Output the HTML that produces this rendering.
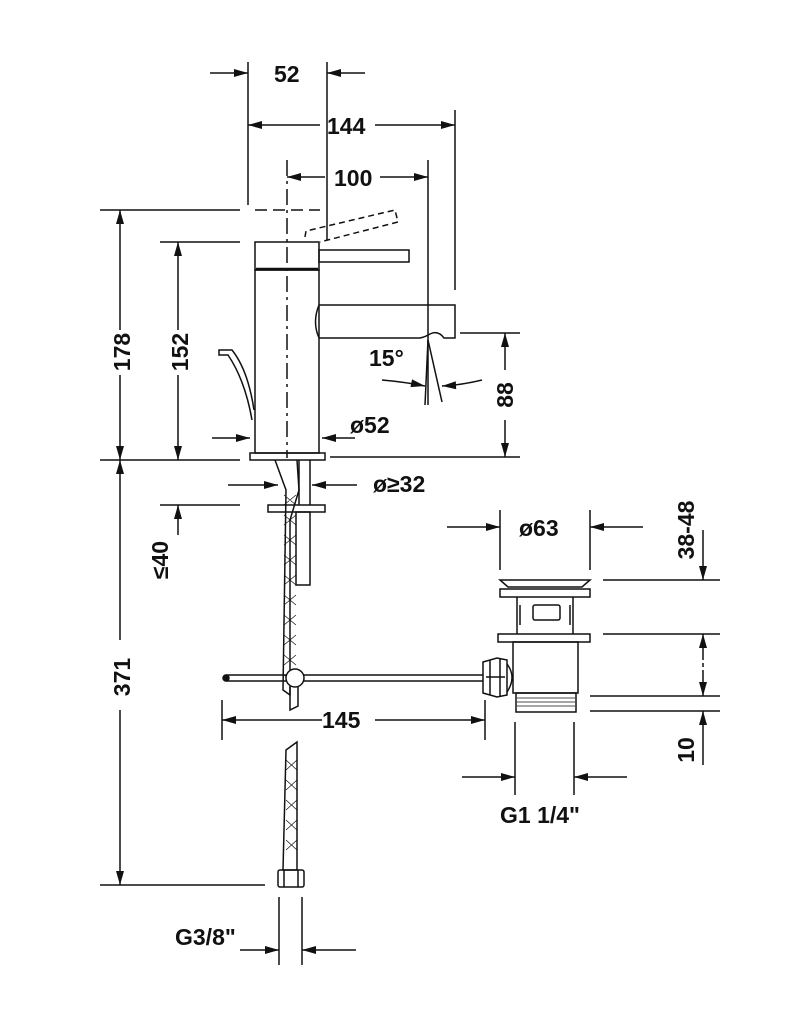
<!DOCTYPE html>
<html><head><meta charset="utf-8"><style>
html,body{margin:0;padding:0;background:#fff}
svg{display:block}
text{font-family:"Liberation Sans",sans-serif;font-weight:bold;font-size:23px;fill:#111}
</style></head><body>
<svg width="796" height="1024" viewBox="0 0 796 1024" xmlns="http://www.w3.org/2000/svg">
<defs>
<marker id="a" viewBox="0 0 14 10" refX="14" refY="5" markerWidth="15" markerHeight="10" orient="auto-start-reverse" markerUnits="userSpaceOnUse"><path d="M0,1 L14,5 L0,9 z" fill="#111"/></marker>
</defs>
<g stroke="#111" stroke-width="1.5" fill="none">
<line x1="248" y1="62" x2="248" y2="205"/>
<line x1="327" y1="62" x2="327" y2="240"/>
<line x1="210" y1="73" x2="248" y2="73" marker-end="url(#a)"/>
<line x1="365" y1="73" x2="327" y2="73" marker-end="url(#a)"/>
<line x1="455" y1="110" x2="455" y2="290"/>
<line x1="320" y1="125" x2="248" y2="125" marker-end="url(#a)"/>
<line x1="375" y1="125" x2="455" y2="125" marker-end="url(#a)"/>
<line x1="428" y1="160" x2="428" y2="405"/>
<line x1="325" y1="177" x2="287" y2="177" marker-end="url(#a)"/>
<line x1="380" y1="177" x2="428" y2="177" marker-end="url(#a)"/>
<line x1="287" y1="160" x2="287" y2="458" stroke-dasharray="16,5,3,5"/>
<line x1="100" y1="210" x2="240" y2="210"/>
<line x1="255" y1="210" x2="320" y2="210" stroke-dasharray="12,6"/>
<line x1="160" y1="242" x2="240" y2="242"/>
<line x1="100" y1="460" x2="240" y2="460"/>
<line x1="120" y1="330" x2="120" y2="210" marker-end="url(#a)"/>
<line x1="120" y1="375" x2="120" y2="460" marker-end="url(#a)"/>
<line x1="178" y1="330" x2="178" y2="242" marker-end="url(#a)"/>
<line x1="178" y1="375" x2="178" y2="460" marker-end="url(#a)"/>
<rect x="255" y="242" width="64" height="28"/>
<line x1="256" y1="269" x2="318" y2="269" stroke-width="2.5"/>
<rect x="255" y="270" width="64" height="183"/>
<rect x="250" y="453" width="75" height="7"/>
<rect x="319" y="250" width="90" height="12"/>
<path d="M305,237 L306,231 L395,210 L398,222 L320,242" stroke-dasharray="6,4"/>
<path d="M319,305 L455,305 L455,338 L444,338 Q438,330 430,334 Q425,337 420,338 L319,338 Q312,322 319,305"/>
<path d="M252,420 Q245,380 228,355 L219,355 L219,350 L232,350 Q248,370 254,410"/>
<line x1="460" y1="333" x2="520" y2="333"/>
<line x1="330" y1="457" x2="520" y2="457"/>
<line x1="505" y1="370" x2="505" y2="333" marker-end="url(#a)"/>
<line x1="505" y1="420" x2="505" y2="457" marker-end="url(#a)"/>
<line x1="428" y1="340" x2="425" y2="405"/>
<line x1="428" y1="340" x2="442" y2="402"/>
<path d="M382,380 Q405,382 425,386" marker-end="url(#a)"/>
<path d="M482,380 Q462,385 442,386" marker-end="url(#a)"/>
<line x1="212" y1="438" x2="250" y2="438" marker-end="url(#a)"/>
<line x1="355" y1="438" x2="322" y2="438" marker-end="url(#a)"/>
<line x1="228" y1="485" x2="278" y2="485" marker-end="url(#a)"/>
<line x1="357" y1="485" x2="312" y2="485" marker-end="url(#a)"/>
<path d="M275,460 L286,490 L283,690 L290,695 L290,520 L299,490 L297,460"/>
<path d="M284,495 L296,505 M284,515 L296,525 M284,535 L296,545 M284,555 L296,565 M284,575 L296,585 M284,595 L296,605 M284,615 L296,625 M284,635 L296,645 M284,655 L296,665 M284,675 L294,683 M296,495 L284,505 M296,515 L284,525 M296,535 L284,545 M296,555 L284,565 M296,575 L284,585 M296,595 L284,605 M296,615 L284,625 M296,635 L284,645 M296,655 L284,665" stroke-width="0.7"/>
<rect x="268" y="505" width="57" height="7"/>
<rect x="296" y="512" width="14" height="73"/>
<line x1="299" y1="460" x2="299" y2="505"/>
<line x1="310" y1="460" x2="310" y2="505"/>
<line x1="160" y1="505" x2="240" y2="505"/>
<line x1="178" y1="535" x2="178" y2="505" marker-end="url(#a)"/>
<line x1="120" y1="640" x2="120" y2="460" marker-end="url(#a)"/>
<line x1="120" y1="710" x2="120" y2="885" marker-end="url(#a)"/>
<line x1="100" y1="885" x2="265" y2="885"/>
<path d="M226,675 L485,675 M226,681 L485,681"/>
<circle cx="226" cy="678" r="3" fill="#111"/>
<circle cx="295" cy="678" r="9" fill="#fff"/>
<path d="M290,687 L290,710 L298,706 L298,687"/>
<line x1="222" y1="700" x2="222" y2="740"/>
<line x1="485" y1="700" x2="485" y2="740"/>
<line x1="322" y1="720" x2="222" y2="720" marker-end="url(#a)"/>
<line x1="375" y1="720" x2="485" y2="720" marker-end="url(#a)"/>
<path d="M500,580 L590,580 L582,587 L508,587 Z"/>
<rect x="500" y="589" width="90" height="8"/>
<path d="M517,597 L517,634 M573,597 L573,634 M520,605 L520,625 M570,605 L570,625"/>
<rect x="533" y="605" width="27" height="15" rx="2"/>
<rect x="498" y="634" width="92" height="8"/>
<rect x="513" y="642" width="65" height="51"/>
<rect x="516" y="693" width="60" height="19"/>
<path d="M517,698 L575,698 M517,702 L575,702 M517,706 L575,706" stroke-width="0.8"/>
<path d="M483,662 L497,658 L507,660 L507,695 L497,697 L483,693 Z" fill="#fff"/>
<path d="M490,660 L490,695 M500,659 L500,696 M486,677 L505,677"/>
<path d="M507,664 Q517,677 507,692"/>
<line x1="500" y1="510" x2="500" y2="570"/>
<line x1="590" y1="510" x2="590" y2="570"/>
<line x1="447" y1="527" x2="500" y2="527" marker-end="url(#a)"/>
<line x1="643" y1="527" x2="590" y2="527" marker-end="url(#a)"/>
<line x1="603" y1="580" x2="720" y2="580"/>
<line x1="603" y1="634" x2="720" y2="634"/>
<line x1="590" y1="696" x2="720" y2="696"/>
<line x1="590" y1="711" x2="720" y2="711"/>
<line x1="703" y1="530" x2="703" y2="580" marker-end="url(#a)"/>
<line x1="703" y1="660" x2="703" y2="634" marker-end="url(#a)"/>
<line x1="703" y1="670" x2="703" y2="696" marker-end="url(#a)"/>
<line x1="703" y1="663" x2="703" y2="667"/>
<line x1="703" y1="765" x2="703" y2="711" marker-end="url(#a)"/>
<line x1="515" y1="722" x2="515" y2="795"/>
<line x1="574" y1="722" x2="574" y2="795"/>
<line x1="462" y1="777" x2="515" y2="777" marker-end="url(#a)"/>
<line x1="627" y1="777" x2="574" y2="777" marker-end="url(#a)"/>
<path d="M286,750 L297,742 L297,870 L283,870 Z"/>
<path d="M286,760 L297,770 M286,780 L297,790 M286,800 L297,810 M286,820 L297,830 M286,840 L297,850 M297,760 L286,770 M297,780 L286,790 M297,800 L286,810 M297,820 L286,830 M297,840 L286,850" stroke-width="0.7"/>
<rect x="278" y="870" width="26" height="17" rx="2"/>
<path d="M284,870 L284,887 M298,870 L298,887"/>
<line x1="279" y1="897" x2="279" y2="965"/>
<line x1="302" y1="897" x2="302" y2="965"/>
<line x1="356" y1="950" x2="302" y2="950" marker-end="url(#a)"/>
<line x1="240" y1="950" x2="279" y2="950" marker-end="url(#a)"/>
</g>
<text x="274" y="82">52</text>
<text x="327" y="134">144</text>
<text x="334" y="186">100</text>
<text x="369" y="366">15°</text>
<text x="350" y="433">ø52</text>
<text x="373" y="492">ø≥32</text>
<text x="519" y="536">ø63</text>
<text x="322" y="728">145</text>
<text x="500" y="823">G1 1/4"</text>
<text x="175" y="945">G3/8"</text>
<text transform="translate(130,352) rotate(-90)" text-anchor="middle">178</text>
<text transform="translate(188,352) rotate(-90)" text-anchor="middle">152</text>
<text transform="translate(513,395) rotate(-90)" text-anchor="middle">88</text>
<text transform="translate(168,560) rotate(-90)" text-anchor="middle">≤40</text>
<text transform="translate(130,677) rotate(-90)" text-anchor="middle">371</text>
<text transform="translate(694,530) rotate(-90)" text-anchor="middle">38-48</text>
<text transform="translate(694,750) rotate(-90)" text-anchor="middle">10</text>
</svg>
</body></html>
